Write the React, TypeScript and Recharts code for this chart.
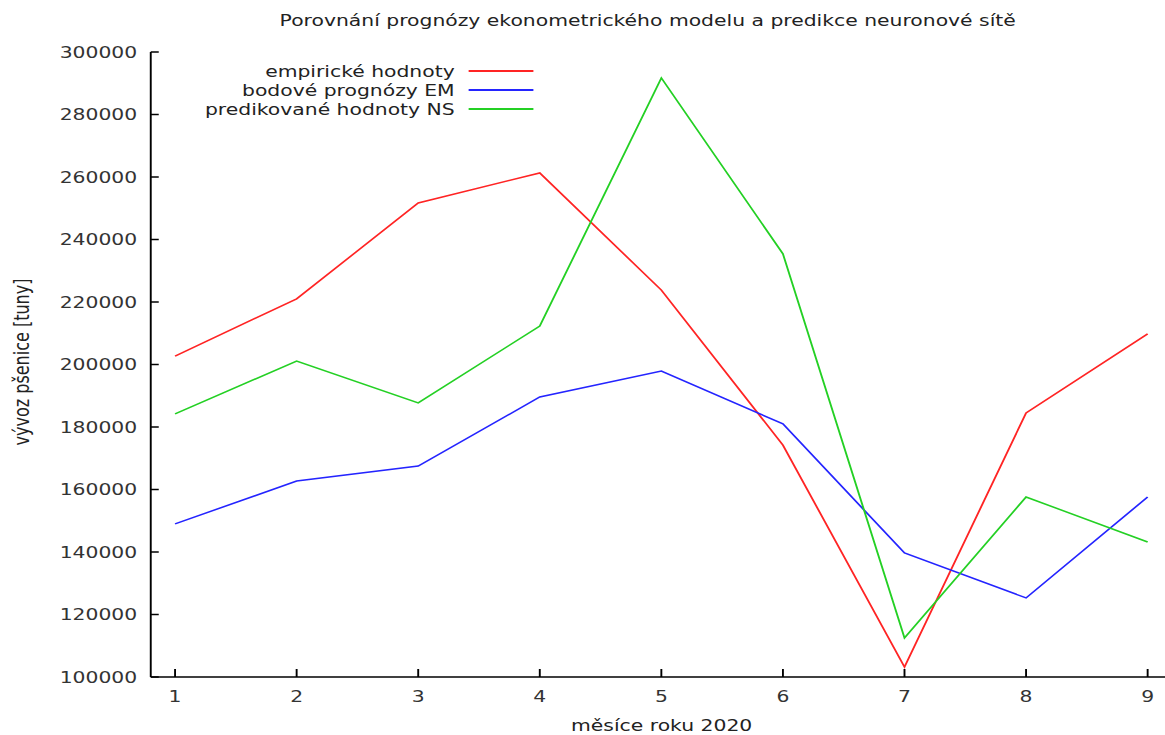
import React from 'react';
import { LineChart, Line, XAxis, YAxis, Legend } from 'recharts';

const months = [1, 2, 3, 4, 5, 6, 7, 8, 9];
const empiricke = [202700, 221000, 251700, 261300, 223800, 174200, 103200, 184500, 209800];
const bodoveEM = [149000, 162700, 167500, 189600, 197900, 181000, 139700, 125300, 157600];
const predikovaneNS = [184200, 201100, 187700, 212300, 291700, 235400, 112500, 157600, 143200];
const yTicks = [100000, 120000, 140000, 160000, 180000, 200000, 220000, 240000, 260000, 280000, 300000];
const seriesNames = ['empirické hodnoty', 'bodové prognózy EM', 'predikované hodnoty NS'];

const FONT = '"DejaVu Sans", Verdana, sans-serif';
// the reference text is wide, so the whole chart is stretched sideways
const SX = 1.27;

const data = months.map((m, i) => ({
  mesic: m,
  emp: empiricke[i],
  em: bodoveEM[i],
  ns: predikovaneNS[i],
}));

const renderLegend = ({ payload }: any) => {
  const items = [...(payload || [])].sort(
    (a: any, b: any) => seriesNames.indexOf(a.value) - seriesNames.indexOf(b.value)
  );
  return (
    <div style={{ fontFamily: FONT, fontSize: 16, color: '#222' }}>
      {items.map((p: any) => (
        <div
          key={p.value}
          style={{ display: 'flex', alignItems: 'center', justifyContent: 'flex-end', height: 19, lineHeight: '19px' }}
        >
          <span style={{ whiteSpace: 'nowrap' }}>{p.value}</span>
          <span style={{ display: 'inline-block', width: 51, borderTop: `2px solid ${p.color}`, marginLeft: 11 }} />
        </div>
      ))}
    </div>
  );
};

const tickStyle = { fontFamily: FONT, fontSize: 16, fill: '#333' };

export default function App() {
  return (
    <div style={{ position: 'absolute', left: 0, top: 0, width: 1165, height: 735, overflow: 'hidden', background: '#fff' }}>
      <div style={{ position: 'relative', width: 940, height: 735, transform: `scaleX(${SX})`, transformOrigin: '0 0' }}>
        <div style={{ position: 'absolute', left: 160, width: 700, top: 11, lineHeight: '20px', textAlign: 'center', fontFamily: FONT, fontSize: 16, color: '#222', whiteSpace: 'nowrap' }}>
          Porovnání prognózy ekonometrického modelu a predikce neuronové sítě
        </div>
        <LineChart width={940} height={735} data={data} margin={{ top: 52, right: 17.2, bottom: 28, left: 0 }}>
          <XAxis
            xAxisId="bottom"
            dataKey="mesic"
            type="number"
            domain={[0.8, 9.2]}
            ticks={months}
            allowDataOverflow
            height={30}
            tickSize={-8}
            tickMargin={22}
            tick={tickStyle}
            stroke="#000"
            strokeWidth={1.5}
          />
          <XAxis
            xAxisId="top"
            orientation="top"
            dataKey="mesic"
            type="number"
            domain={[0.8, 9.2]}
            ticks={months}
            allowDataOverflow
            height={0}
            tickSize={-8}
            tick={false}
            stroke="#000"
            strokeWidth={1.5}
          />
          <YAxis
            yAxisId="left"
            type="number"
            domain={[100000, 300000]}
            ticks={yTicks}
            allowDataOverflow
            width={118.7}
            tickSize={-6.3}
            tickMargin={17}
            tick={tickStyle}
            stroke="#000"
            strokeWidth={1.5}
          />
          <YAxis
            yAxisId="right"
            orientation="right"
            type="number"
            domain={[100000, 300000]}
            ticks={yTicks}
            allowDataOverflow
            width={0}
            tickSize={-6.3}
            tick={false}
            stroke="#000"
            strokeWidth={1.5}
          />
          <Legend
            layout="vertical"
            align="center"
            verticalAlign="middle"
            content={renderLegend}
            wrapperStyle={{ left: 0, top: 61.5, width: 420 }}
          />
          <Line xAxisId="bottom" yAxisId="left" type="linear" dataKey="emp" name={seriesNames[0]} stroke="#ff2424" strokeWidth={1.5} dot={false} isAnimationActive={false} />
          <Line xAxisId="bottom" yAxisId="left" type="linear" dataKey="em" name={seriesNames[1]} stroke="#2424ff" strokeWidth={1.5} dot={false} isAnimationActive={false} />
          <Line xAxisId="bottom" yAxisId="left" type="linear" dataKey="ns" name={seriesNames[2]} stroke="#24d024" strokeWidth={1.5} dot={false} isAnimationActive={false} />
        </LineChart>
        <div style={{ position: 'absolute', left: 321, width: 400, top: 716, lineHeight: '20px', textAlign: 'center', fontFamily: FONT, fontSize: 16, color: '#222' }}>
          měsíce roku 2020
        </div>
        <div style={{ position: 'absolute', left: 17.3, top: 362, transform: 'translate(-50%, -50%) rotate(-90deg)', whiteSpace: 'nowrap', fontFamily: FONT, fontSize: 16, color: '#222' }}>
          vývoz pšenice [tuny]
        </div>
      </div>
    </div>
  );
}
